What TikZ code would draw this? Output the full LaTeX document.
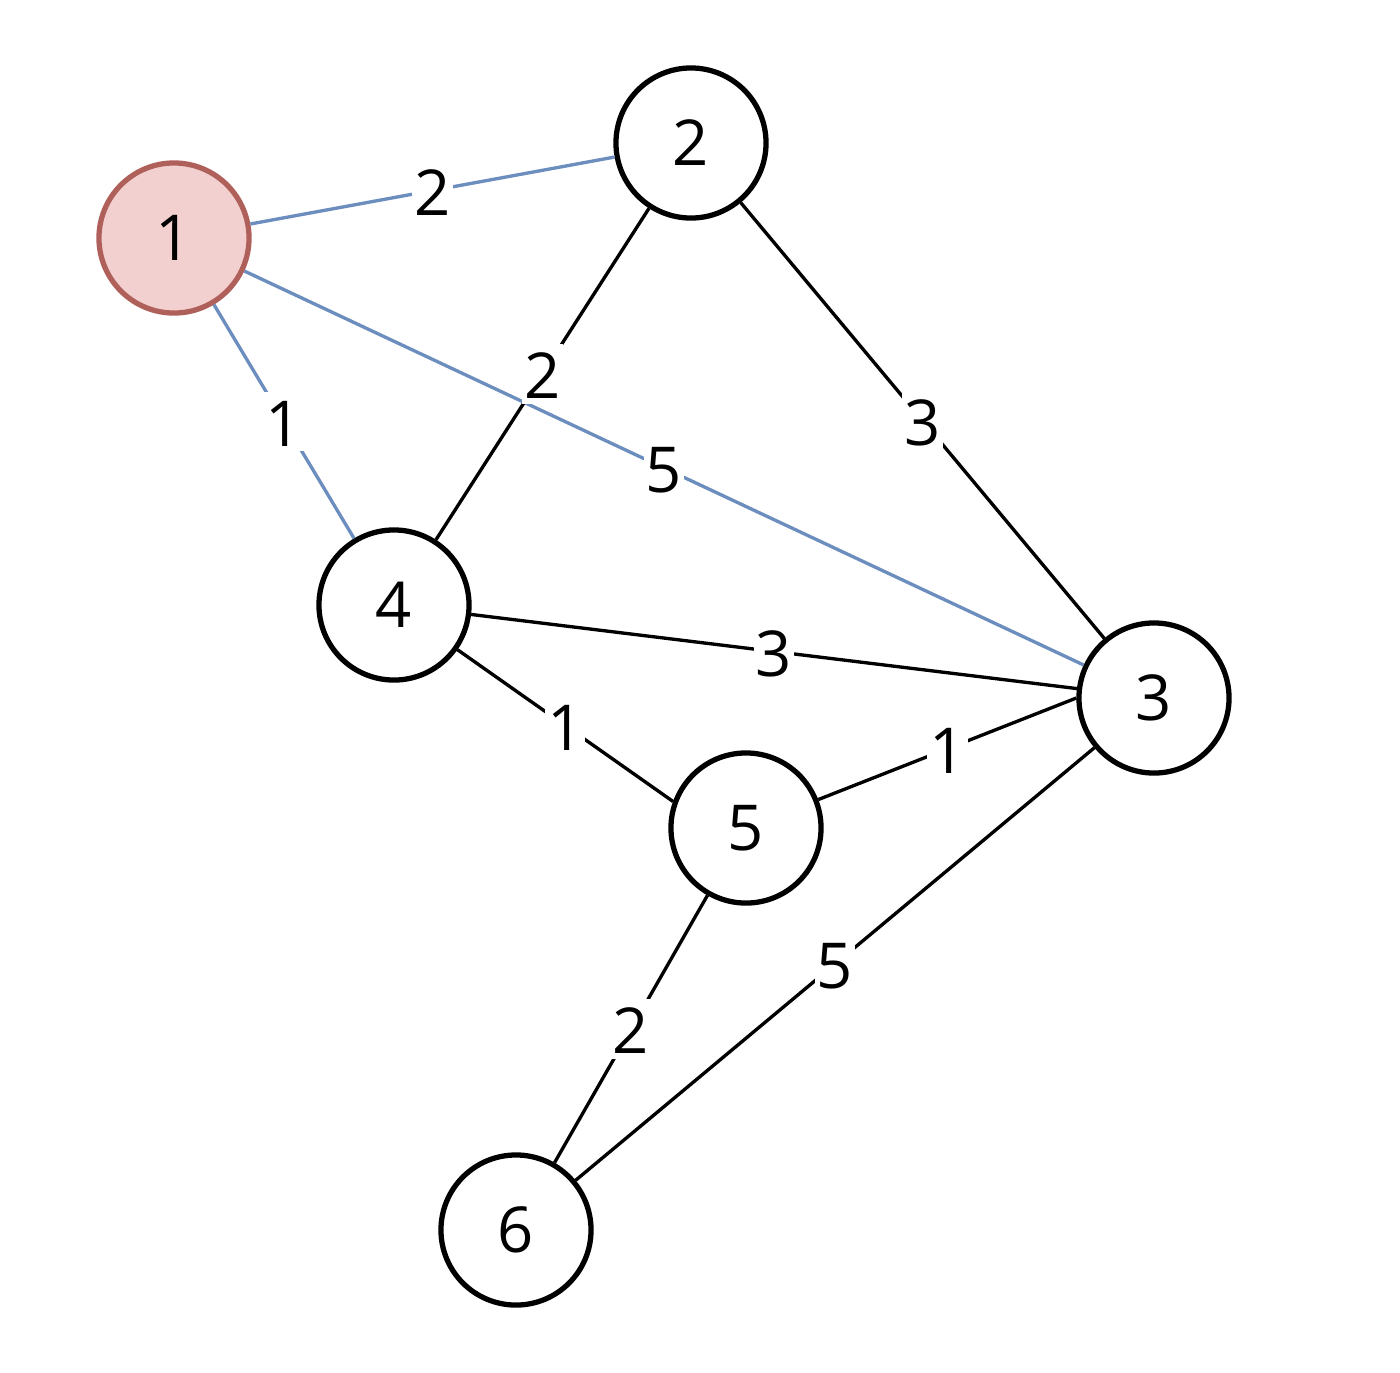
\documentclass[tikz,border=0pt]{standalone}
\usepackage{fontspec}
\setmainfont{Open Sans}
\definecolor{edgeblue}{HTML}{6C8EBF}
\definecolor{rootfill}{HTML}{F2D0D0}
\definecolor{rootdraw}{HTML}{B0605A}
\begin{document}
\begin{tikzpicture}[x=0.01cm,y=-0.01cm,
  vtx/.style={circle,draw=black,fill=white,line width=1.5pt,minimum size=1.5cm,inner sep=0pt,font=\fontsize{18}{20}\selectfont},
  root/.style={vtx,draw=rootdraw,fill=rootfill},
  edge/.style={line width=0.95pt,draw=black},
  bedge/.style={line width=0.95pt,draw=edgeblue},
  wt/.style={fill=white,inner xsep=0.6pt,inner ysep=1pt,text height=14.4pt,text depth=0.4pt,font=\fontsize{18}{20}\selectfont}]
\useasboundingbox (0,0) rectangle (1400,1372);
\node[root] (n1) at (174,238) {1};
\node[vtx] (n2) at (691,143) {2};
\node[vtx] (n3) at (1154,698) {3};
\node[vtx] (n4) at (394,605) {4};
\node[vtx] (n5) at (746,828) {5};
\node[vtx] (n6) at (516,1230) {6};
\draw[bedge] (n1) -- (n2) node[wt,midway] (w12) {2};
\draw[bedge] (n1) -- (n4) node[wt,midway] (w14) {1};
\draw[bedge] (n1) -- (n3) coordinate[midway] (m13);
\draw[edge] (n2) -- (n4) coordinate[midway] (m24);
\draw[edge] (n2) -- (n3) node[wt,midway] (w23) {3};
\draw[edge] (n4) -- (n3) node[wt,midway] (w43) {3};
\draw[edge] (n4) -- (n5.160) node[wt,midway] (w45) {1};
\draw[edge] (n5) -- (n3.west) node[wt,midway] (w53) {1};
\draw[edge] (n5) -- (n6) node[wt,midway] (w56) {2};
\draw[edge] (n6) -- (n3) node[wt,midway] (w63) {5};
\node[wt] (w13) at (m13) {5};
\node[wt] (w24) at (m24) {2};
\end{tikzpicture}
\end{document}
